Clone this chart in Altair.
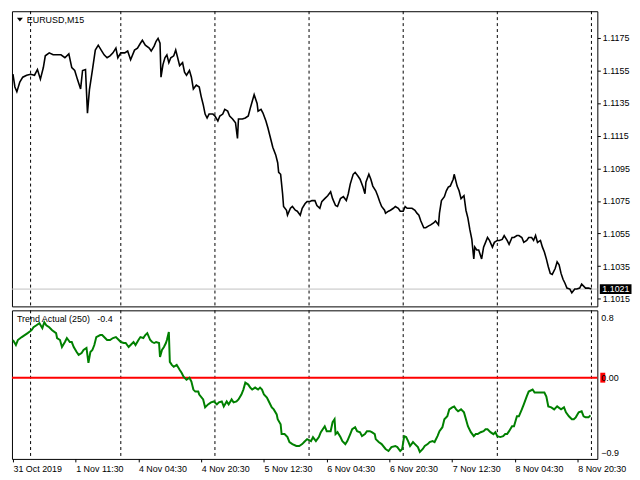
import altair as alt
import pandas as pd

# ---------------- data ----------------
# EURUSD M15 close prices (bar index, price)
price_points = [
    (0, 1.11526), (2, 1.11448), (4, 1.11419), (7, 1.11478), (10, 1.11508), (14, 1.11520), (18, 1.11526),
    (22, 1.11520), (25, 1.11555), (28, 1.11496), (31, 1.11567), (33, 1.11639), (37, 1.11657), (41, 1.11645),
    (45, 1.11645), (49, 1.11645), (53, 1.11627), (57, 1.11651), (60, 1.11567), (63, 1.11549), (66, 1.11490),
    (69, 1.11436), (71, 1.11549), (74, 1.11555), (76, 1.11288), (78, 1.11430), (81, 1.11549), (84, 1.11674),
    (87, 1.11704), (90, 1.11674), (93, 1.11645), (96, 1.11627), (99, 1.11639), (102, 1.11657), (105, 1.11686),
    (107, 1.11627), (110, 1.11657), (114, 1.11657), (117, 1.11668), (120, 1.11615), (124, 1.11674),
    (127, 1.11686), (130, 1.11716), (132, 1.11734), (135, 1.11704), (139, 1.11686), (141, 1.11668),
    (144, 1.11698), (146, 1.11728), (148, 1.11746), (150, 1.11716), (151, 1.11508), (153, 1.11585),
    (155, 1.11627), (157, 1.11645), (159, 1.11597), (161, 1.11627), (164, 1.11639), (166, 1.11674),
    (168, 1.11627), (170, 1.11579), (173, 1.11597), (175, 1.11538), (177, 1.11520), (180, 1.11549),
    (182, 1.11508), (184, 1.11436), (187, 1.11460), (190, 1.11448), (192, 1.11389), (194, 1.11341),
    (196, 1.11282), (198, 1.11258), (200, 1.11282), (204, 1.11282), (206, 1.11270), (209, 1.11240),
    (211, 1.11270), (214, 1.11282), (216, 1.11311), (219, 1.11300), (221, 1.11270), (224, 1.11252),
    (227, 1.11228), (229, 1.11133), (230, 1.11252), (234, 1.11252), (237, 1.11258), (240, 1.11270),
    (242, 1.11317), (244, 1.11359), (246, 1.11401), (249, 1.11347), (250, 1.11300), (253, 1.11311),
    (255, 1.11288), (258, 1.11240), (260, 1.11198), (262, 1.11151), (264, 1.11103), (265, 1.11079),
    (268, 1.11032), (270, 1.10984), (271, 1.10925), (273, 1.10913), (275, 1.10794), (276, 1.10716),
    (279, 1.10693), (280, 1.10663), (283, 1.10705), (285, 1.10716), (288, 1.10693), (290, 1.10687),
    (293, 1.10663), (295, 1.10705), (298, 1.10734), (300, 1.10746), (303, 1.10746), (305, 1.10752),
    (308, 1.10752), (310, 1.10722), (313, 1.10705), (315, 1.10746), (318, 1.10764), (321, 1.10782),
    (324, 1.10806), (326, 1.10764), (329, 1.10722), (331, 1.10716), (334, 1.10764), (337, 1.10776),
    (340, 1.10752), (342, 1.10794), (344, 1.10853), (347, 1.10913), (349, 1.10925), (352, 1.10901),
    (354, 1.10883), (357, 1.10835), (359, 1.10794), (360, 1.10865), (363, 1.10913), (365, 1.10883),
    (367, 1.10841), (370, 1.10812), (372, 1.10782), (374, 1.10746), (376, 1.10716), (379, 1.10693),
    (380, 1.10675), (383, 1.10687), (385, 1.10693), (388, 1.10705), (390, 1.10716), (393, 1.10705),
    (395, 1.10687), (398, 1.10687), (400, 1.10716), (402, 1.10705), (404, 1.10705), (407, 1.10705),
    (410, 1.10693), (412, 1.10675), (414, 1.10663), (416, 1.10627), (419, 1.10586), (421, 1.10586),
    (424, 1.10597), (426, 1.10603), (429, 1.10615), (431, 1.10627), (434, 1.10603), (435, 1.10675),
    (437, 1.10752), (440, 1.10776), (442, 1.10812), (444, 1.10835), (446, 1.10841), (449, 1.10883),
    (450, 1.10913), (453, 1.10841), (455, 1.10812), (457, 1.10764), (460, 1.10782), (462, 1.10693),
    (464, 1.10645), (466, 1.10574), (468, 1.10514), (470, 1.10395), (471, 1.10467), (473, 1.10449),
    (475, 1.10449), (478, 1.10395), (480, 1.10467), (482, 1.10496), (484, 1.10526), (486, 1.10508),
    (489, 1.10467), (491, 1.10496), (494, 1.10508), (496, 1.10508), (499, 1.10514), (501, 1.10538),
    (504, 1.10508), (506, 1.10484), (509, 1.10526), (511, 1.10526), (514, 1.10538), (516, 1.10538),
    (519, 1.10526), (521, 1.10496), (524, 1.10508), (526, 1.10526), (529, 1.10526), (531, 1.10508),
    (533, 1.10538), (535, 1.10496), (538, 1.10508), (540, 1.10467), (542, 1.10437), (544, 1.10395),
    (546, 1.10347), (548, 1.10306), (550, 1.10300), (553, 1.10336), (555, 1.10377), (557, 1.10359),
    (559, 1.10306), (561, 1.10270), (563, 1.10246), (565, 1.10216), (568, 1.10210), (570, 1.10187),
    (573, 1.10210), (575, 1.10210), (578, 1.10216), (580, 1.10240), (582, 1.10228), (584, 1.10216),
    (587, 1.10216), (590, 1.10210),
]

# Trend Actual (250) indicator values (bar index, value)
trend_points = [
    (0, 0.431), (3, 0.374), (5, 0.431), (9, 0.465), (12, 0.488), (15, 0.510), (19, 0.544), (21, 0.578),
    (24, 0.601), (27, 0.624), (30, 0.567), (32, 0.635), (34, 0.601), (37, 0.578), (40, 0.544), (44, 0.510),
    (45, 0.454), (48, 0.431), (50, 0.351), (53, 0.408), (55, 0.454), (58, 0.408), (60, 0.408), (62, 0.351),
    (65, 0.295), (67, 0.261), (70, 0.283), (72, 0.317), (75, 0.340), (77, 0.170), (79, 0.295), (81, 0.317),
    (83, 0.374), (85, 0.465), (89, 0.488), (91, 0.488), (94, 0.454), (96, 0.431), (99, 0.431), (102, 0.454),
    (105, 0.465), (108, 0.431), (110, 0.408), (113, 0.397), (115, 0.397), (118, 0.351), (120, 0.374),
    (123, 0.408), (125, 0.374), (128, 0.431), (130, 0.465), (133, 0.454), (135, 0.488), (137, 0.510),
    (140, 0.431), (142, 0.408), (144, 0.397), (146, 0.408), (149, 0.397), (150, 0.238), (152, 0.317),
    (154, 0.351), (156, 0.397), (157, 0.431), (159, 0.522), (160, 0.181), (162, 0.147), (164, 0.125),
    (167, 0.147), (170, 0.091), (172, 0.057), (174, 0.011), (177, -0.023), (180, 0.0), (182, -0.045),
    (184, -0.136), (186, -0.159), (189, -0.159), (190, -0.193), (194, -0.249), (196, -0.340), (199, -0.306),
    (202, -0.283), (205, -0.272), (208, -0.306), (210, -0.283), (213, -0.272), (215, -0.329), (218, -0.272),
    (220, -0.306), (223, -0.249), (225, -0.283), (228, -0.272), (230, -0.249), (233, -0.193), (235, -0.136),
    (237, -0.057), (240, -0.079), (242, -0.113), (244, -0.136), (247, -0.113), (250, -0.136), (252, -0.113),
    (254, -0.136), (256, -0.193), (259, -0.227), (261, -0.272), (264, -0.340), (266, -0.363), (269, -0.420),
    (270, -0.476), (273, -0.533), (274, -0.646), (277, -0.646), (280, -0.680), (282, -0.737), (285, -0.760),
    (289, -0.782), (292, -0.782), (295, -0.760), (297, -0.737), (300, -0.703), (304, -0.726), (306, -0.680),
    (309, -0.726), (312, -0.680), (314, -0.624), (318, -0.556), (320, -0.612), (324, -0.612), (326, -0.510),
    (328, -0.476), (329, -0.646), (331, -0.624), (334, -0.680), (336, -0.726), (339, -0.760), (341, -0.726),
    (344, -0.646), (346, -0.590), (349, -0.567), (351, -0.612), (354, -0.624), (356, -0.669), (359, -0.646),
    (361, -0.612), (364, -0.612), (366, -0.624), (369, -0.646), (370, -0.703), (373, -0.737), (376, -0.760),
    (380, -0.816), (383, -0.839), (386, -0.794), (390, -0.782), (392, -0.794), (395, -0.839), (397, -0.816),
    (399, -0.669), (401, -0.680), (403, -0.726), (405, -0.782), (408, -0.737), (410, -0.760), (413, -0.794),
    (415, -0.850), (418, -0.816), (420, -0.782), (423, -0.760), (425, -0.737), (428, -0.726), (430, -0.737),
    (433, -0.669), (435, -0.612), (438, -0.567), (440, -0.476), (443, -0.442), (445, -0.363), (448, -0.340),
    (450, -0.329), (452, -0.363), (454, -0.385), (457, -0.363), (460, -0.397), (462, -0.476), (464, -0.556),
    (467, -0.624), (470, -0.669), (472, -0.646), (474, -0.646), (477, -0.624), (480, -0.612), (482, -0.590),
    (484, -0.590), (487, -0.624), (490, -0.646), (492, -0.624), (494, -0.669), (497, -0.680), (500, -0.669),
    (502, -0.646), (504, -0.646), (506, -0.612), (509, -0.556), (511, -0.556), (514, -0.442), (516, -0.442),
    (519, -0.363), (521, -0.306), (524, -0.215), (526, -0.159), (530, -0.136), (532, -0.170), (535, -0.170),
    (539, -0.170), (542, -0.170), (544, -0.215), (546, -0.329), (549, -0.340), (552, -0.363), (555, -0.329),
    (559, -0.363), (562, -0.340), (564, -0.397), (567, -0.442), (570, -0.476), (572, -0.476), (574, -0.454),
    (577, -0.397), (580, -0.385), (582, -0.442), (584, -0.454), (587, -0.454), (589, -0.431),
]

day_separator_bars = [18, 110, 206, 302, 398, 494, 590]
time_tick_bars = [0, 64, 128, 192, 256, 320, 384, 448, 512, 576]
time_tick_labels = ["31 Oct 2019", "1 Nov 11:30", "4 Nov 04:30", "4 Nov 20:30", "5 Nov 12:30",
                    "6 Nov 04:30", "6 Nov 20:30", "7 Nov 12:30", "8 Nov 04:30", "8 Nov 20:30"]
price_ticks = [1.1015, 1.1035, 1.1055, 1.1075, 1.1095, 1.1115, 1.1135, 1.1155, 1.1175]
last_price = [1.1021]
price_window = [1.10104, 1.11912]
trend_window = [-0.930, 0.771]          # indicator window min / max
trend_label_pos = [0.692, 0.0, -0.862]  # where MT4 prints the window max, level and window min
trend_level = [0.0]
symbol_title = ["EURUSD,M15"]
indicator_title = ["Trend Actual (250)\u00a0\u00a0\u00a0-0.4"]

# ---------------- chart ----------------
W = 591
FONT = "Liberation Sans"

price_df = pd.DataFrame(price_points, columns=["bar", "price"])
trend_df = pd.DataFrame(trend_points, columns=["bar", "value"])
sep_df = pd.DataFrame({"bar": day_separator_bars})
last_df = pd.DataFrame({"price": last_price, "label": [f"{p:.4f}" for p in last_price]})
level_df = pd.DataFrame({"value": trend_level})

xscale = alt.Scale(domain=[-1, 596], nice=False, zero=False)
x_top = alt.X("bar:Q", scale=xscale, axis=None)
time_expr = ("[" + ",".join(f"'{s}'" for s in time_tick_labels) + "][indexof(["
             + ",".join(str(b) for b in time_tick_bars) + "], datum.value)]")
x_bot = alt.X("bar:Q", scale=xscale, title=None,
              axis=alt.Axis(values=time_tick_bars, labelExpr=time_expr, labelAlign="left",
                            tickSize=3, labelPadding=3, labelOverlap=False, labelFlush=False,
                            labelBound=False, labelBaseline="top"))

y_price = alt.Y("price:Q", title=None,
                scale=alt.Scale(domain=price_window, nice=False, zero=False),
                axis=alt.Axis(orient="right", values=price_ticks, format=".4f",
                              tickSize=3, labelPadding=2, labelOverlap=False))

trend_expr = (f"datum.value > 0 ? format({trend_window[1]}, '.1f') : "
              f"(datum.value < 0 ? format({trend_window[0]}, '.1f') : '0.00')")
y_trend = alt.Y("value:Q", title=None,
                scale=alt.Scale(domain=trend_window, nice=False, zero=False),
                axis=alt.Axis(orient="right", values=trend_label_pos, labelExpr=trend_expr,
                              ticks=False, tickSize=0, labelPadding=3.5, labelFlush=False,
                              labelOverlap=False, zindex=1))

dash = dict(color="black", strokeDash=[3, 3], strokeWidth=1)

top_sep = alt.Chart(sep_df).mark_rule(**dash).encode(x=x_top)
top_last = alt.Chart(last_df).mark_rule(color="#C0C0C0", strokeWidth=1).encode(y=y_price)
top_line = alt.Chart(price_df).mark_line(color="black", strokeWidth=1.6).encode(x=x_top, y=y_price)
top_box = alt.Chart(last_df).mark_point(
    shape="M-1,-0.3125 L1,-0.3125 L1,0.3125 L-1,0.3125 Z", filled=True, color="black",
    size=1024, opacity=1, strokeWidth=0).encode(x=alt.value(W + 18.5), y=y_price)
top_box_txt = alt.Chart(last_df).mark_text(
    color="white", font=FONT, fontSize=9, align="left", baseline="middle").encode(
    x=alt.value(W + 5), y=y_price, text="label:N")
top_tri = alt.Chart(pd.DataFrame({"t": symbol_title})).mark_point(
    shape="M-1,-0.6 L1,-0.6 L0,0.6 Z", filled=True, color="black", size=36, opacity=1,
    strokeWidth=0).encode(x=alt.value(8), y=alt.value(8.5))
top_title = alt.Chart(pd.DataFrame({"t": symbol_title})).mark_text(
    font=FONT, fontSize=9, align="left", baseline="middle", color="black").encode(
    x=alt.value(15), y=alt.value(9), text="t:N")

top = alt.layer(top_sep, top_last, top_line, top_box, top_box_txt, top_tri, top_title).properties(
    width=W, height=298)

bot_sep = alt.Chart(sep_df).mark_rule(**dash).encode(x=x_bot)
bot_title = alt.Chart(pd.DataFrame({"t": indicator_title})).mark_text(
    font=FONT, fontSize=9, align="left", baseline="middle", color="black").encode(
    x=alt.value(5), y=alt.value(9), text="t:N")
bot_level = alt.Chart(level_df).mark_rule(color="#FF0000", strokeWidth=2).encode(y=y_trend)
bot_line = alt.Chart(trend_df).mark_line(color="#008000", strokeWidth=2).encode(x=x_bot, y=y_trend)
bot_box = alt.Chart(level_df).mark_point(
    shape="M-0.5,-1 L0.5,-1 L0.5,1 L-0.5,1 Z", filled=True, color="#FF0000", size=100,
    opacity=1, strokeWidth=0).encode(x=alt.value(W + 5.5), y=y_trend)

bottom = alt.layer(bot_sep, bot_title, bot_level, bot_line, bot_box).properties(width=W, height=150)

chart = alt.vconcat(top, bottom, spacing=2).properties(
    padding={"left": 0, "top": 0, "right": 0, "bottom": 0},
    background="white",
).configure_view(stroke="black", strokeWidth=1).configure_axis(
    labelFont=FONT, labelFontSize=9, labelColor="black", tickColor="black",
    domain=False, grid=False,
)

chart.save("out.html", embed_options={"renderer": "svg", "actions": False})
